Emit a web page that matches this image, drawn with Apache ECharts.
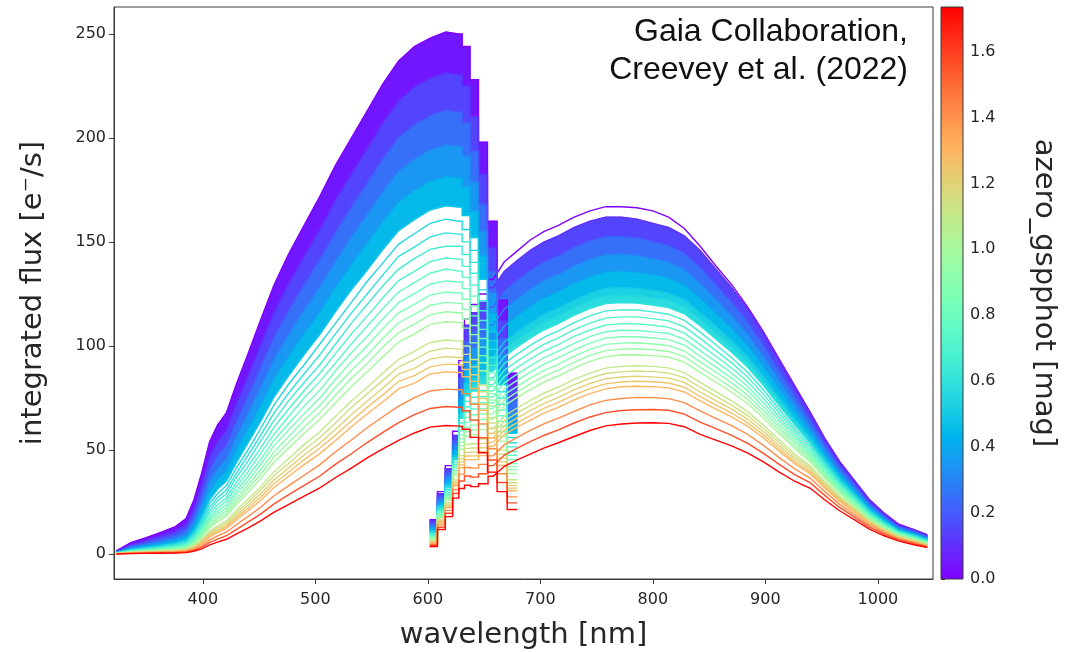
<!DOCTYPE html>
<html>
<head>
<meta charset="utf-8">
<script src="https://cdn.jsdelivr.net/npm/echarts@6/dist/echarts.min.js"></script>
<style>
  html, body { margin: 0; padding: 0; background: #ffffff; }
  #chart { width: 1068px; height: 652px; }
</style>
</head>
<body>
<div id="chart"></div>
<script>
// ---- spectra of the sample stars: BP and RP integrated flux per wavelength bin ----
const bpWavelength = [323, 336, 349, 362, 375, 385, 392, 399, 406, 413, 421, 430, 440, 451, 463, 476, 490,
  504, 518, 532, 546, 560, 574, 588, 602, 616, 627, 634, 641, 649, 657, 666, 675];
const rpWavelength = [605, 612, 619, 625, 630, 635, 641, 649, 658, 668, 679, 691, 703, 716, 730, 744, 758,
  772, 786, 800, 814, 828, 842, 856, 870, 884, 898, 912, 926, 940, 953, 966, 979, 992, 1005, 1018, 1031, 1044];

// extinction of each star (colour scale)
const azero = [0.00, 0.10, 0.20, 0.30, 0.40, 0.50, 0.55, 0.60, 0.65, 0.70, 0.75, 0.80, 0.85, 0.90, 0.95,
  1.00, 1.10, 1.15, 1.20, 1.25, 1.30, 1.42, 1.56, 1.73];

const bpFlux = [
  [1.5, 5.5, 7.8, 10.3, 13, 17, 26, 39, 54, 62, 68, 82, 96, 112, 129, 144, 158, 172, 187, 200, 213, 226, 237, 244, 248, 251, 250, 244, 228, 198, 160, 122, 87],
  [1.2, 4.6, 6.5, 8.6, 10.8, 14.1, 21.8, 33.3, 46.7, 54.0, 59.6, 72.5, 85.3, 100.0, 115.8, 129.7, 143.0, 156.0, 170.2, 182.6, 194.9, 207.2, 217.8, 224.5, 228.7, 231.4, 230.5, 225.0, 210.2, 182.6, 147.5, 112.5, 80.2],
  [1.0, 3.8, 5.4, 7.1, 9.0, 11.8, 18.3, 28.4, 40.4, 47.1, 52.3, 64.0, 75.8, 89.3, 104.0, 116.9, 129.4, 141.6, 154.8, 166.8, 178.3, 190.1, 200.3, 206.4, 210.8, 213.4, 212.5, 207.4, 193.8, 168.3, 136.0, 103.7, 74.0],
  [0.9, 3.2, 4.5, 5.9, 7.5, 9.8, 15.4, 24.3, 34.9, 41.0, 45.8, 56.6, 67.4, 79.7, 93.4, 105.4, 117.1, 128.3, 140.8, 152.2, 163.2, 174.2, 184.1, 189.8, 194.4, 196.8, 196.0, 191.3, 178.8, 155.2, 125.4, 95.6, 68.2],
  [0.7, 2.6, 3.7, 4.9, 6.2, 8.1, 12.9, 20.7, 30.2, 35.7, 40.2, 50.0, 59.9, 71.1, 83.9, 94.9, 106.0, 116.4, 128.3, 139.2, 149.3, 159.8, 169.2, 174.7, 179.3, 181.5, 180.8, 176.4, 164.8, 143.2, 115.7, 88.2, 62.9],
  [0.6, 2.2, 3.1, 4.1, 5.2, 6.8, 10.8, 17.7, 26.1, 31.1, 35.2, 44.2, 53.3, 63.5, 75.3, 85.5, 95.9, 105.6, 116.7, 127.0, 136.5, 146.4, 155.5, 160.8, 165.4, 167.4, 166.8, 162.7, 152.1, 132.1, 106.7, 81.4, 58.0],
  [0.5, 2, 2.9, 3.8, 4.8, 6.2, 10, 16.4, 24.4, 29, 33, 41.6, 50, 60, 71.5, 81.5, 91, 101, 111, 121, 131, 140, 149, 154, 159, 161, 160, 156, 146, 127, 102.5, 78, 56],
  [0.5, 1.8, 2.6, 3.4, 4.3, 5.6, 9.1, 15.1, 22.6, 27.1, 30.9, 39.0, 47.3, 56.8, 67.6, 77.2, 86.7, 95.8, 106.0, 115.8, 125.0, 134.2, 143.1, 147.6, 152.5, 154.4, 153.8, 150.1, 140.2, 121.8, 98.4, 75.0, 53.5],
  [0.5, 1.6, 2.4, 3.1, 4, 5.2, 8.3, 14, 21, 25.5, 29, 37, 44.5, 54, 64, 73.5, 82.5, 91, 101, 111, 120, 129, 137, 142, 146.5, 148, 148, 144, 135, 117, 94.5, 72, 51.5],
  [0.4, 1.5, 2.2, 2.8, 3.6, 4.7, 7.6, 12.9, 19.5, 23.6, 27.1, 34.5, 42.0, 50.7, 60.8, 69.6, 78.5, 86.9, 96.5, 105.8, 114.4, 123.2, 131.5, 135.9, 140.6, 142.3, 141.8, 138.3, 129.3, 112.3, 90.7, 69.2, 49.3],
  [0.4, 1.4, 2, 2.6, 3.3, 4.3, 7, 12, 18, 22, 25.5, 32.5, 39.5, 48, 57.5, 66, 75, 83, 92, 101, 109.5, 118, 126, 130.5, 135, 137, 136, 133, 124, 108, 87, 66.5, 47.5],
  [0.3, 1.3, 1.8, 2.4, 3.0, 3.9, 6.4, 11.0, 17.0, 20.6, 23.7, 30.5, 37.3, 45.1, 54.6, 62.5, 71.1, 78.8, 88.1, 96.8, 104.6, 113.0, 120.9, 125.2, 129.7, 131.3, 130.8, 127.6, 119.2, 103.6, 83.7, 63.8, 45.5],
  [0.3, 1.2, 1.7, 2.2, 2.8, 3.6, 5.9, 10.2, 16, 19.2, 22.2, 28.8, 35.2, 42.7, 52, 59.5, 67.5, 75, 84, 92.5, 100, 108.5, 116, 120, 124.5, 126, 125.5, 122.5, 114.5, 99.5, 80.5, 61.5, 43.5],
  [0.3, 1.1, 1.5, 2.0, 2.5, 3.2, 5.4, 9.4, 14.7, 17.9, 20.8, 27.0, 33.2, 40.3, 49.0, 56.3, 64.3, 71.4, 80.2, 88.4, 95.6, 103.7, 111.2, 115.2, 119.5, 121.0, 120.5, 117.6, 109.9, 95.4, 77.1, 58.8, 41.9],
  [0.3, 1, 1.4, 1.8, 2.3, 3, 5, 8.7, 13.7, 16.8, 19.5, 25.5, 31.4, 38, 46.5, 53.5, 61, 68, 76.5, 84.5, 91.5, 99.5, 106.5, 110.5, 115, 116.5, 116, 113, 105.5, 92, 74, 56.5, 40.5],
  [0.2, 0.9, 1.2, 1.6, 2.1, 2.7, 4.5, 8.0, 12.6, 15.6, 18.2, 23.9, 29.6, 36.0, 44.0, 50.8, 58.1, 64.8, 72.7, 80.6, 87.5, 94.9, 101.9, 105.9, 110.4, 111.7, 111.3, 108.6, 101.5, 88.1, 71.2, 54.3, 38.7],
  [0.2, 0.7, 1.0, 1.4, 1.7, 2.2, 3.8, 6.8, 10.9, 13.6, 16.0, 21.1, 26.3, 32.1, 39.5, 45.8, 52.6, 58.8, 66.2, 73.6, 80.1, 87.0, 93.6, 97.4, 101.7, 102.9, 102.5, 100.0, 93.5, 81.2, 65.6, 50.0, 35.7],
  [0.2, 0.7, 1, 1.3, 1.6, 2.1, 3.5, 6.4, 10.2, 12.7, 15, 19.9, 24.8, 30.5, 37.5, 43.5, 50, 56, 63, 70.5, 77, 83.5, 90, 93.5, 97.5, 99, 98.5, 96, 90, 78, 63, 48, 34.3],
  [0.2, 0.6, 0.9, 1.1, 1.4, 1.9, 3.2, 5.9, 9.5, 11.8, 14.0, 18.6, 23.3, 28.8, 35.5, 41.3, 47.6, 53.3, 60.0, 67.0, 73.5, 79.8, 86.5, 89.3, 93.7, 94.9, 94.5, 92.2, 86.2, 74.8, 60.5, 46.1, 32.9],
  [0.2, 0.6, 0.8, 1, 1.3, 1.8, 3, 5.5, 8.9, 11, 13.2, 17.5, 22, 27.2, 33.7, 39.3, 45.3, 51, 57.3, 64, 70.5, 76.5, 83, 85.8, 90, 91.3, 91, 88.7, 83, 72, 58, 44.3, 31.7],
  [0.1, 0.5, 0.7, 0.9, 1.2, 1.6, 2.7, 5.0, 8.2, 10.3, 12.3, 16.5, 20.7, 25.6, 31.9, 37.3, 43.0, 48.3, 54.6, 61.2, 67.3, 73.2, 79.4, 82.2, 86.6, 87.6, 87.3, 85.2, 79.6, 69.1, 55.8, 42.6, 30.4],
  [0.1, 0.4, 0.6, 0.8, 1.0, 1.2, 2.2, 4.1, 6.8, 8.7, 10.6, 14.2, 18.0, 22.4, 27.9, 32.8, 37.9, 43.0, 49.2, 54.8, 60.7, 66.0, 71.1, 75.2, 78.4, 79.3, 79.0, 77.1, 72.0, 62.6, 50.6, 38.6, 27.5],
  [0.1, 0.3, 0.4, 0.6, 0.7, 1.0, 1.7, 3.3, 5.6, 7.2, 8.8, 11.9, 15.3, 19.1, 24.0, 28.4, 33.0, 37.5, 43.2, 48.2, 53.6, 58.5, 63.2, 67.0, 70.0, 70.9, 70.6, 68.9, 64.4, 55.9, 45.2, 34.4, 24.6],
  [0.1, 0.2, 0.3, 0.4, 0.5, 0.7, 1.3, 2.5, 4.4, 5.7, 7.1, 9.7, 12.5, 15.8, 20.0, 23.8, 27.8, 31.8, 36.8, 41.3, 46.2, 50.6, 54.7, 58.2, 61.0, 61.8, 61.5, 60.0, 56.1, 48.7, 39.4, 30.0, 21.4]
];

const rpFlux = [
  [16.5, 30, 42.5, 59, 93, 113, 120, 125, 132, 140.5, 145.5, 151, 155, 158, 162, 165, 167, 167, 166.5, 165, 162, 156.5, 148, 138.5, 129.5, 119, 107, 94, 81, 68, 55.5, 44.5, 35.5, 26.5, 20, 14.5, 12, 9.3],
  [16, 29, 41, 57, 90, 110, 116, 121, 128, 136, 141, 146, 150, 153, 157, 160, 162, 162, 161, 159, 157, 153, 146, 137, 128, 118, 106, 93, 80, 67, 55, 44, 35, 26, 19.5, 14, 11.8, 9],
  [14.6, 27.4, 39.0, 54.4, 84.4, 102.2, 107.3, 111.9, 118.7, 126.6, 131.5, 136.4, 140.4, 143.4, 147.5, 150.6, 152.7, 152.8, 152.0, 150.2, 148.4, 144.6, 137.9, 129.5, 121.1, 111.8, 100.5, 88.2, 76.0, 64.0, 52.5, 42.0, 33.4, 24.8, 18.6, 13.3, 11.1, 8.4],
  [13.3, 26.0, 37.1, 52.0, 79.1, 94.9, 99.2, 103.5, 110.1, 117.8, 122.5, 127.3, 131.4, 134.5, 138.5, 141.6, 143.9, 144.2, 143.5, 142.0, 140.4, 136.8, 130.2, 122.5, 114.6, 105.8, 95.3, 83.7, 72.3, 61.1, 50.2, 40.1, 31.9, 23.7, 17.7, 12.7, 10.5, 7.9],
  [12.1, 24.6, 35.2, 49.6, 74.2, 88.2, 91.7, 95.7, 102.0, 109.6, 114.3, 119.0, 123.0, 126.1, 130.2, 133.3, 135.6, 135.9, 135.4, 134.2, 132.7, 129.3, 123.1, 115.8, 108.4, 100.3, 90.3, 79.4, 68.7, 58.4, 47.9, 38.3, 30.5, 22.6, 16.9, 12.1, 9.9, 7.4],
  [11.1, 23.3, 33.5, 47.4, 69.6, 82.0, 84.8, 88.5, 94.6, 102.0, 106.6, 111.1, 115.1, 118.3, 122.1, 125.4, 127.8, 128.1, 127.8, 126.7, 125.4, 122.2, 116.2, 109.5, 102.7, 95.0, 85.6, 75.4, 65.3, 55.7, 45.8, 36.6, 29.1, 21.6, 16.1, 11.5, 9.4, 6.9],
  [10.6, 22.6, 32.6, 46.3, 67.4, 79, 81.6, 85.1, 91.2, 98.4, 103, 107.4, 111.4, 114.5, 118.4, 121.7, 124.1, 124.5, 124.2, 123.2, 122, 118.8, 113, 106.4, 99.8, 92.4, 83.4, 73.4, 63.7, 54.4, 44.7, 35.7, 28.4, 21.1, 15.7, 11.2, 9.1, 6.7],
  [10.1, 22.0, 31.8, 45.3, 65.2, 76.1, 78.4, 81.8, 87.8, 94.9, 99.4, 103.8, 107.7, 110.8, 114.8, 118.1, 120.4, 120.9, 120.7, 119.7, 118.5, 115.5, 109.8, 103.4, 97.0, 89.9, 81.2, 71.5, 62.1, 53.2, 43.7, 34.9, 27.8, 20.6, 15.3, 11.0, 8.9, 6.5],
  [9.6, 21.4, 31, 44.2, 63.1, 73.4, 75.4, 78.7, 84.6, 91.6, 96, 100.3, 104.2, 107.3, 111.3, 114.5, 116.9, 117.4, 117.3, 116.4, 115.3, 112.3, 106.7, 100.6, 94.4, 87.5, 79.1, 69.7, 60.5, 52, 42.7, 34.1, 27.1, 20.1, 14.9, 10.7, 8.6, 6.2],
  [9.2, 20.8, 30.3, 43.2, 61.1, 70.7, 72.5, 75.6, 81.4, 88.4, 92.6, 96.9, 100.8, 103.9, 107.9, 111.0, 113.4, 114.0, 114.0, 113.2, 112.1, 109.2, 103.7, 97.8, 91.9, 85.2, 77.0, 67.9, 59.0, 50.8, 41.7, 33.4, 26.5, 19.6, 14.6, 10.4, 8.4, 6.0],
  [8.8, 20.2, 29.5, 42.2, 59.2, 68.2, 69.7, 72.7, 78.4, 85.3, 89.5, 93.7, 97.5, 100.7, 104.6, 107.7, 110.1, 110.8, 110.7, 110, 109, 106.2, 100.7, 95.1, 89.4, 82.9, 74.9, 66.1, 57.5, 49.6, 40.7, 32.6, 25.9, 19.1, 14.2, 10.2, 8.1, 5.8],
  [8.4, 19.7, 28.7, 41.3, 57.3, 65.7, 67.0, 69.9, 75.5, 82.3, 86.4, 90.5, 94.3, 97.5, 101.3, 104.5, 106.9, 107.6, 107.5, 106.8, 106.0, 103.3, 97.8, 92.5, 86.9, 80.7, 72.9, 64.4, 56.1, 48.5, 39.8, 31.9, 25.3, 18.7, 13.9, 10.0, 7.9, 5.7],
  [8, 19.1, 28, 40.3, 55.5, 63.3, 64.5, 67.3, 72.7, 79.4, 83.4, 87.5, 91.2, 94.4, 98.2, 101.4, 103.8, 104.5, 104.5, 103.9, 103.1, 100.4, 95.1, 89.9, 84.6, 78.6, 71, 62.7, 54.7, 47.4, 38.9, 31.1, 24.7, 18.3, 13.6, 9.7, 7.7, 5.5],
  [7.7, 18.6, 27.3, 39.4, 53.7, 61.0, 62.0, 64.7, 70.0, 76.6, 80.5, 84.6, 88.2, 91.3, 95.1, 98.4, 100.8, 101.4, 101.6, 101.0, 100.2, 97.6, 92.4, 87.4, 82.3, 76.5, 69.1, 61.1, 53.4, 46.4, 38.1, 30.4, 24.2, 17.9, 13.3, 9.5, 7.5, 5.3],
  [7.3, 18.1, 26.6, 38.5, 52, 58.8, 59.6, 62.2, 67.4, 73.9, 77.8, 81.8, 85.4, 88.4, 92.2, 95.5, 97.8, 98.5, 98.7, 98.2, 97.4, 94.9, 89.8, 85, 80, 74.4, 67.3, 59.5, 52, 45.3, 37.2, 29.7, 23.6, 17.4, 13, 9.2, 7.3, 5.1],
  [7.0, 17.6, 26.0, 37.6, 50.4, 56.7, 57.3, 59.8, 64.9, 71.3, 75.2, 79.0, 82.6, 85.6, 89.4, 92.6, 94.9, 95.7, 95.8, 95.4, 94.7, 92.3, 87.3, 82.6, 77.8, 72.4, 65.5, 58.0, 50.7, 44.2, 36.3, 29.0, 23.1, 17.0, 12.7, 9.0, 7.1, 5.0],
  [6.4, 16.7, 24.7, 36.0, 47.3, 52.7, 53.0, 55.3, 60.2, 66.4, 70.1, 73.9, 77.3, 80.3, 84.0, 87.0, 89.4, 90.2, 90.5, 90.2, 89.5, 87.2, 82.5, 78.1, 73.6, 68.6, 62.1, 55.1, 48.2, 42.3, 34.7, 27.8, 22.1, 16.3, 12.1, 8.6, 6.7, 4.6],
  [6.1, 16.2, 24.1, 35.1, 45.8, 50.8, 51, 53.2, 58, 64, 67.7, 71.4, 74.8, 77.8, 81.4, 84.5, 86.8, 87.6, 88, 87.7, 87, 84.8, 80.2, 75.9, 71.6, 66.7, 60.5, 53.6, 47, 41.3, 33.9, 27.1, 21.6, 15.9, 11.8, 8.4, 6.5, 4.4],
  [5.8, 15.8, 23.5, 34.3, 44.3, 48.9, 49.0, 51.1, 55.8, 61.7, 65.3, 68.9, 72.3, 75.3, 78.9, 82.0, 84.3, 85.1, 85.5, 85.2, 84.6, 82.5, 77.9, 73.8, 69.7, 64.9, 58.9, 52.2, 45.8, 40.3, 33.1, 26.5, 21.1, 15.5, 11.5, 8.2, 6.3, 4.3],
  [5.5, 15.3, 22.9, 33.5, 42.9, 47.1, 47.2, 49.2, 53.7, 59.6, 63.1, 66.6, 70, 72.9, 76.5, 79.5, 81.8, 82.7, 83.1, 82.8, 82.2, 80.2, 75.7, 71.7, 67.8, 63.2, 57.4, 50.9, 44.6, 39.4, 32.3, 25.9, 20.6, 15.1, 11.2, 8, 6.1, 4.2],
  [5.3, 14.9, 22.3, 32.8, 41.5, 45.4, 45.4, 47.3, 51.7, 57.5, 60.9, 64.4, 67.7, 70.5, 74.1, 77.1, 79.4, 80.4, 80.7, 80.5, 79.9, 77.9, 73.6, 69.7, 65.9, 61.5, 55.9, 49.6, 43.5, 38.5, 31.6, 25.3, 20.1, 14.8, 11.0, 7.8, 5.9, 4.1],
  [4.7, 14.0, 21.0, 31.0, 38.4, 41.6, 41.3, 43.1, 47.2, 52.6, 56.0, 59.4, 62.6, 65.3, 68.6, 71.7, 73.9, 74.8, 75.3, 75.2, 74.7, 72.8, 68.8, 65.2, 61.7, 57.6, 52.4, 46.5, 41.0, 36.4, 29.9, 23.9, 19.0, 14.0, 10.4, 7.4, 5.6, 3.8],
  [4.2, 12.9, 19.6, 29.1, 35.1, 37.5, 37.0, 38.6, 42.5, 47.6, 50.8, 54.0, 57.0, 59.7, 63.0, 65.9, 68.0, 69.0, 69.4, 69.5, 69.1, 67.3, 63.4, 60.3, 57.1, 53.3, 48.5, 43.2, 38.2, 34.2, 28.1, 22.4, 17.9, 13.1, 9.7, 6.9, 5.1, 3.4],
  [3.6, 11.8, 18.0, 26.9, 31.5, 33.1, 32.4, 33.8, 37.4, 42.2, 45.1, 48.0, 50.9, 53.5, 56.5, 59.4, 61.6, 62.5, 63.0, 63.1, 62.8, 61.2, 57.5, 54.8, 52.0, 48.6, 44.4, 39.5, 35.0, 31.6, 26.0, 20.8, 16.5, 12.1, 8.9, 6.3, 4.6, 3.1]
];

// axis ticks
const xTicks = [400, 500, 600, 700, 800, 900, 1000];
const yTicks = [0, 50, 100, 150, 200, 250];
const cbarTicks = [0.0, 0.2, 0.4, 0.6, 0.8, 1.0, 1.2, 1.4, 1.6];
const cbarRange = [0, 1.735];

// stars whose neighbours are filled as solid bands (densely packed low-extinction spectra)
const bpBandStars = [0, 5];
const rpBandStars = [1, 7];

// ---- colour map (matplotlib "rainbow") ----
function rainbow(t) {
  t = Math.max(0, Math.min(1, t));
  const clamp = v => Math.round(255 * Math.max(0, Math.min(1, v)));
  const r = Math.abs(2 * t - 0.5);
  const g = Math.sin(Math.PI * t);
  const b = Math.cos(Math.PI * t / 2);
  return 'rgb(' + clamp(r) + ',' + clamp(g) + ',' + clamp(b) + ')';
}
function colorOf(a) { return rainbow((a - cbarRange[0]) / (cbarRange[1] - cbarRange[0])); }

const FONT = 'DejaVu Sans';
const TEXT = '#262626';
const FRAME = '#3a3a3a';
// narrow bins where BP and RP overlap are drawn as steps, the rest as straight segments
const STEP_ZONE = [600, 682];
const STEP_BELOW = 10;

function isStep(a, b) {
  return b - a < STEP_BELOW && a >= STEP_ZONE[0] && b <= STEP_ZONE[1];
}

// outline of one spectrum in pixel space
function outline(wl, ys, api) {
  const pts = [];
  const n = wl.length;
  for (let k = 0; k < n; k++) {
    const leftStep = k > 0 && isStep(wl[k - 1], wl[k]);
    const rightStep = k < n - 1 && isStep(wl[k], wl[k + 1]);
    let x0 = leftStep ? (wl[k - 1] + wl[k]) / 2 : wl[k];
    let x1 = rightStep ? (wl[k] + wl[k + 1]) / 2 : wl[k];
    if (k === 0 && rightStep) x0 = wl[0] - (wl[1] - wl[0]) / 2;
    if (k === n - 1 && leftStep) x1 = wl[k] + (wl[k] - wl[k - 1]) / 2;
    pts.push(api.coord([x0, ys[k]]));
    if (x1 !== x0) pts.push(api.coord([x1, ys[k]]));
  }
  return pts;
}

function bandSeries(wl, rows, i) {
  const fill = colorOf((azero[i] + azero[i + 1]) / 2);
  return {
    type: 'custom',
    xAxisIndex: 0, yAxisIndex: 0,
    silent: true, animation: false, z: 1,
    data: [[wl[0], rows[i][0]]],
    renderItem: function (params, api) {
      const upper = outline(wl, rows[i], api);
      const lower = outline(wl, rows[i + 1], api).reverse();
      return { type: 'polygon', shape: { points: upper.concat(lower) }, style: { fill: fill, stroke: fill, lineWidth: 0.6 } };
    }
  };
}

function lineSeries(wl, ys, a) {
  const color = colorOf(a);
  return {
    type: 'custom',
    xAxisIndex: 0, yAxisIndex: 0,
    silent: true, animation: false, z: 2,
    data: [[wl[0], ys[0]]],
    renderItem: function (params, api) {
      return { type: 'polyline', shape: { points: outline(wl, ys, api) },
        style: { stroke: color, lineWidth: 1.4, fill: null, lineJoin: 'miter' } };
    }
  };
}

const series = [];
for (let i = rpBandStars[0]; i < rpBandStars[1]; i++) series.push(bandSeries(rpWavelength, rpFlux, i));
for (let i = bpBandStars[0]; i < bpBandStars[1]; i++) series.push(bandSeries(bpWavelength, bpFlux, i));
for (let i = 0; i < azero.length; i++) {
  series.push(lineSeries(rpWavelength, rpFlux[i], azero[i]));
  series.push(lineSeries(bpWavelength, bpFlux[i], azero[i]));
}

// colour bar
const cbarStops = [];
for (let k = 0; k <= 40; k++) cbarStops.push({ offset: k / 40, color: rainbow(1 - k / 40) });
series.push({
  type: 'custom',
  xAxisIndex: 1, yAxisIndex: 1,
  silent: true, animation: false,
  data: [[0, cbarRange[0]]],
  renderItem: function (params, api) {
    const p0 = api.coord([0, cbarRange[0]]);
    const p1 = api.coord([1, cbarRange[1]]);
    return {
      type: 'rect',
      shape: { x: p0[0], y: p1[1], width: p1[0] - p0[0], height: p0[1] - p1[1] },
      style: { fill: new echarts.graphic.LinearGradient(0, 0, 0, 1, cbarStops), stroke: FRAME, lineWidth: 1 }
    };
  }
});

const chart = echarts.init(document.getElementById('chart'), null, { renderer: 'canvas' });
chart.setOption({
  animation: false,
  backgroundColor: '#ffffff',
  grid: [
    { left: 114, top: 7, width: 819, height: 572, show: true, borderColor: FRAME, borderWidth: 1, backgroundColor: 'transparent', outerBoundsMode: 'none' },
    { left: 941, top: 7, width: 22, height: 572, outerBoundsMode: 'none' }
  ],
  xAxis: [
    {
      gridIndex: 0, type: 'value', min: 321, max: 1049,
      name: 'wavelength [nm]', nameLocation: 'middle', nameGap: 42,
      nameTextStyle: { fontFamily: FONT, fontSize: 29, color: TEXT },
      axisLine: { show: true, onZero: false, lineStyle: { color: FRAME, width: 1 } },
      axisTick: { show: true, customValues: xTicks, length: 5, lineStyle: { color: FRAME } },
      axisLabel: { customValues: xTicks, fontFamily: FONT, fontSize: 16, color: TEXT, margin: 13,
        formatter: v => String(v) },
      splitLine: { show: false }
    },
    { gridIndex: 1, type: 'value', min: 0, max: 1, show: false }
  ],
  yAxis: [
    {
      gridIndex: 0, type: 'value', min: -12, max: 263,
      name: 'integrated flux [e\u207B/s]', nameLocation: 'middle', nameGap: 66,
      nameTextStyle: { fontFamily: FONT, fontSize: 29, color: TEXT },
      axisLine: { show: true, onZero: false, lineStyle: { color: FRAME, width: 1 } },
      axisTick: { show: true, customValues: yTicks, length: 5, lineStyle: { color: FRAME } },
      axisLabel: { customValues: yTicks, fontFamily: FONT, fontSize: 16, color: TEXT, margin: 8,
        formatter: v => String(v) },
      splitLine: { show: false }
    },
    {
      gridIndex: 1, type: 'value', min: cbarRange[0], max: cbarRange[1], position: 'right',
      name: 'azero_gspphot [mag]', nameLocation: 'middle', nameGap: 66, nameRotate: -90,
      nameTextStyle: { fontFamily: FONT, fontSize: 29, color: TEXT },
      axisLine: { show: false },
      axisTick: { show: true, customValues: cbarTicks, length: 4, lineStyle: { color: FRAME } },
      axisLabel: { customValues: cbarTicks, fontFamily: FONT, fontSize: 16, color: TEXT, margin: 7,
        formatter: v => Number(v).toFixed(1) },
      splitLine: { show: false }
    }
  ],
  graphic: [{
    type: 'text',
    x: 908, y: 13, z: 10,
    style: {
      text: 'Gaia Collaboration,\nCreevey et al. (2022)',
      font: '32px "Liberation Sans", Arial, sans-serif',
      fill: '#111111', textAlign: 'right', textVerticalAlign: 'top', lineHeight: 38
    }
  }],
  series: series
});
</script>
</body>
</html>
